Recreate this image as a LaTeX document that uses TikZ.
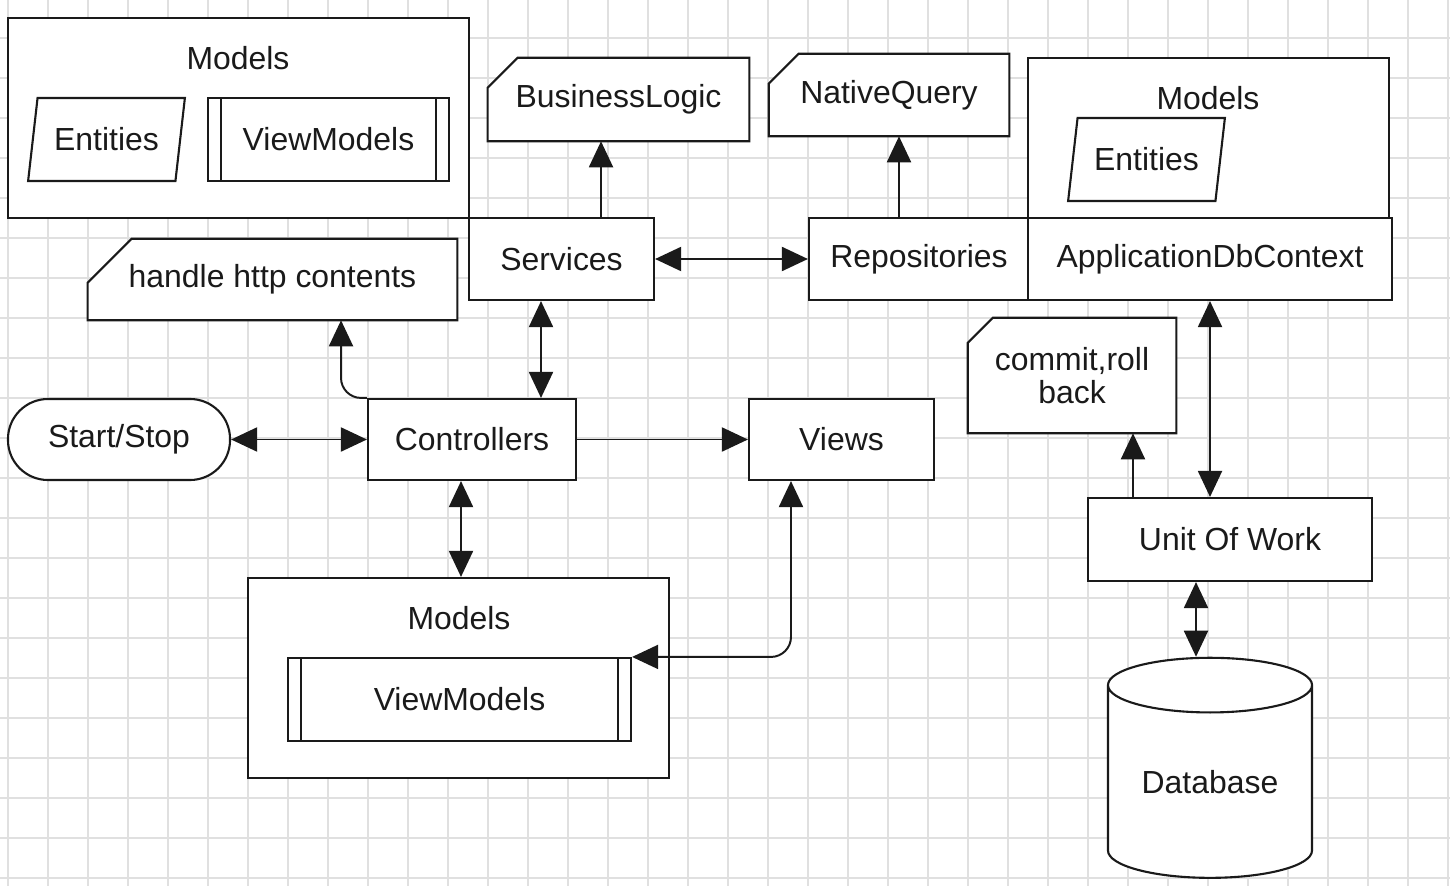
\documentclass[tikz,border=0pt]{standalone}
\usepackage{fontspec}
\setmainfont{Liberation Sans}
\usetikzlibrary{arrows.meta,shapes.geometric}

\definecolor{gridgray}{HTML}{E0E0E0}
\definecolor{ink}{HTML}{1A1A1A}

\pgfdeclarelayer{grid}
\pgfdeclarelayer{back}
\pgfsetlayers{grid,back,main}

\tikzstyle{gridline} = [draw=gridgray, line width=1.4pt]
\tikzstyle{box} = [draw=ink, fill=white, line width=1.5pt, inner sep=0pt, text=ink]
\tikzstyle{title} = [inner sep=0pt, text=ink]
\tikzstyle{entity} = [box, trapezium, trapezium left angle=73, trapezium right angle=107, trapezium stretches=true]
\tikzstyle{subr} = [box, path picture={
    \draw[ink, line width=1.5pt] ([xshift=0.325cm]path picture bounding box.north west) -- ([xshift=0.325cm]path picture bounding box.south west);
    \draw[ink, line width=1.5pt] ([xshift=-0.325cm]path picture bounding box.north east) -- ([xshift=-0.325cm]path picture bounding box.south east);}]
\tikzstyle{note} = [inner sep=0pt, text=ink]
\tikzstyle{noteline} = [draw=ink, fill=white, line width=1.5pt]
\tikzstyle{terminal} = [box, rounded corners=1cm]
\tikzstyle{store} = [box, cylinder, shape border rotate=90, aspect=0.4]
\tikzstyle{link} = [draw=ink, line width=1.4pt, -{Triangle[length=0.65cm,width=0.6cm]}]
\tikzstyle{twoway} = [draw=ink, line width=1.4pt, {Triangle[length=0.65cm,width=0.6cm]}-{Triangle[length=0.65cm,width=0.6cm]}]

\begin{document}
\begin{tikzpicture}[x=0.025cm, y=-0.025cm, font=\fontsize{22.7}{23}\selectfont]
		\useasboundingbox (0,0) rectangle (1450,886);
		\begin{pgfonlayer}{grid}
		\fill[white] (0,0) rectangle (1450,886);
		\foreach \gx in {8,48,...,1448} \draw[gridline] (\gx,0) -- (\gx,886);
		\foreach \gy in {38,78,...,878} \draw[gridline] (0,\gy) -- (1450,\gy);
		\end{pgfonlayer}

		% models groups
		\node[box, minimum width=11.525cm, minimum height=5cm] (mdl1) at (238.5,118) {};
		\node[title] (t1) at (238,58) {Models};
		\node[entity, minimum width=3.925cm, minimum height=2.075cm] (ent1) at (106.5,139.5) {Entities};
		\node[subr, minimum width=6.025cm, minimum height=2.075cm] (vm1) at (328.5,139.5) {ViewModels};
		\node[box, minimum width=9.025cm, minimum height=4cm] (mdl2) at (1208.5,138) {};
		\node[title] (t2) at (1208,98) {Models};
		\node[entity, minimum width=3.925cm, minimum height=2.075cm] (ent2) at (1146.5,159.5) {Entities};
		\node[box, minimum width=10.525cm, minimum height=5cm] (mdl3) at (458.5,678) {};
		\node[title] (t3) at (459,618) {Models};
		\node[subr, minimum width=8.575cm, minimum height=2.075cm] (vm2) at (459.5,699.5) {ViewModels};

		% notes
		\node[note, minimum width=6.525cm, minimum height=2.075cm] (bl) at (618.5,99.5) {BusinessLogic};
		\node[note, minimum width=6cm, minimum height=2.05cm] (nq) at (889,95) {NativeQuery};
		\node[note, minimum width=9.225cm, minimum height=2.025cm] (http) at (272.5,279.5) {handle http contents};
		\node[note, minimum width=5.2cm, minimum height=2.875cm, align=center] (cr) at (1072,375.5) {commit,roll\\back};
		\begin{pgfonlayer}{back}
		\foreach \n/\c in {bl/0.75cm, nq/0.75cm, http/1.1cm, cr/0.63cm}
			\filldraw[noteline] (\n.south west) -- (\n.south east) -- (\n.north east) -- ([xshift=\c]\n.north west) -- ([yshift=-\c]\n.north west) -- cycle;
		\end{pgfonlayer}

		% layers
		\node[box, minimum width=4.625cm, minimum height=2.05cm] (srv) at (561.5,259) {Services};
		\node[box, minimum width=5.5cm, minimum height=2.05cm] (repo) at (919,259) {Repositories};
		\node[box, minimum width=9.1cm, minimum height=2.05cm] (app) at (1210,259) {ApplicationDbContext};
		\node[terminal, minimum width=5.55cm, minimum height=2.025cm] (start) at (119,439.5) {Start/Stop};
		\node[box, minimum width=5.2cm, minimum height=2.025cm] (ctrl) at (472,439.5) {Controllers};
		\node[box, minimum width=4.625cm, minimum height=2.025cm] (views) at (841.5,439.5) {Views};
		\node[box, minimum width=7.1cm, minimum height=2.075cm] (uow) at (1230,539.5) {Unit Of Work};
		\node[store, minimum width=5.1cm, minimum height=5.5cm] (db) at (1210,782) {Database};

		% connectors
		\coordinate (c1) at ([xshift=0.9875cm]srv.north);
		\coordinate (c2) at ([xshift=-0.5cm]repo.north);
		\coordinate (c3) at ([xshift=-0.5125cm]srv.south);
		\coordinate (c4) at ([xshift=1.7125cm]http.south);
		\coordinate (c5) at ([xshift=-0.275cm]ctrl.south);
		\coordinate (c6) at ([xshift=-1.2625cm]views.south);
		\coordinate (c7) at ([xshift=-2.425cm]uow.north);
		\coordinate (c8) at ([xshift=-0.85cm]uow.south);
		\draw[link] (c1) -- (c1 |- bl.south);
		\draw[link] (c2) -- (c2 |- nq.south);
		\draw[twoway] (srv.east) -- (repo.west);
		\draw[twoway] (c3) -- (c3 |- ctrl.north);
		\draw[link, rounded corners=0.5cm] (ctrl.north west) -| (c4);
		\draw[twoway] (start.east) -- (ctrl.west);
		\draw[link] (ctrl.east) -- (views.west);
		\draw[twoway] (c5) -- (c5 |- mdl3.north);
		\draw[twoway, rounded corners=0.5cm] (c6) |- (vm2.north east);
		\draw[twoway] (app.south) -- (app.south |- uow.north);
		\draw[link] (c7) -- (c7 |- cr.south);
		\draw[twoway] (c8) -- (c8 |- db.north);
\end{tikzpicture}
\end{document}
